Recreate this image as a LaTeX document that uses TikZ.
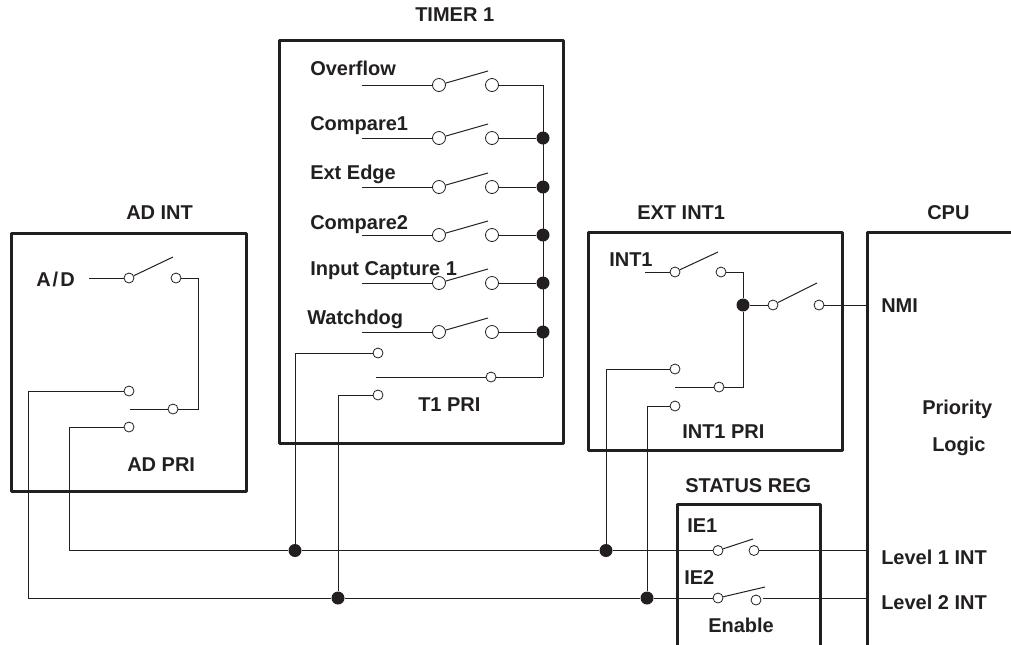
\documentclass[tikz,border=0pt]{standalone}
\usepackage{fontspec}
\setmainfont{Liberation Sans}
\definecolor{ink}{HTML}{231F20}
\tikzset{
  boxline/.style={draw=ink,line width=2.25pt,line join=round},
  wire/.style={draw=ink,line width=0.75pt},
  bigterm/.style={circle,draw=ink,line width=0.6pt,fill=white,minimum size=9.75pt,inner sep=0pt},
  smallterm/.style={circle,draw=ink,line width=0.6pt,fill=white,minimum size=7.5pt,inner sep=0pt},
  junction/.style={circle,fill=ink,minimum size=9.75pt,inner sep=0pt},
  lbl/.style={anchor=base west,inner sep=0pt,text=ink,font=\fontsize{15}{18}\bfseries\selectfont},
}
\newcommand{\timerrow}[2]{%
  \coordinate (in#1) at (362,#2);
  \node[bigterm] (a#1) at (439,#2) {};
  \node[bigterm] (b#1) at (492,#2) {};
  \coordinate (f#1) at (488,#2-14);
  \draw[wire] (in#1) -- (a#1);
  \draw[wire] (a#1) -- (f#1);
}
\begin{document}
\begin{tikzpicture}[x=0.75pt,y=-0.75pt]
\useasboundingbox (0,0) rectangle (1011,644);
% boxes
\coordinate (tl) at (279,40); \coordinate (tr) at (563,443);
\draw[boxline] (tl) rectangle (tr);
\coordinate (al) at (11,233); \coordinate (ar) at (246,491);
\draw[boxline] (al) rectangle (ar);
\coordinate (el) at (588,232); \coordinate (er) at (842,450);
\draw[boxline] (el) rectangle (er);
\coordinate (s1) at (677,650); \coordinate (s2) at (677,504); \coordinate (s3) at (820,504); \coordinate (s4) at (820,650);
\draw[boxline] (s1) -- (s2) -- (s3) -- (s4);
\coordinate (c1) at (867,650); \coordinate (c2) at (867,232); \coordinate (c3) at (1015,232);
\draw[boxline] (c1) -- (c2) -- (c3);
\coordinate (cNMI) at (867,305); \coordinate (cL1) at (867,550.5); \coordinate (cL2) at (867,598);
% timer rows
\timerrow{1}{85}
\timerrow{2}{138}
\timerrow{3}{187}
\timerrow{4}{235}
\timerrow{5}{283}
\timerrow{6}{332}
\coordinate (bustop) at (543,85);
\coordinate (busbot) at (543,377);
\node[junction] (j2) at (543,138) {};
\node[junction] (j3) at (543,187) {};
\node[junction] (j4) at (543,235) {};
\node[junction] (j5) at (543,283) {};
\node[junction] (j6) at (543,332) {};
\draw[wire] (b1) -- (bustop) -- (busbot);
\foreach \n in {2,...,6} \draw[wire] (b\n) -- (j\n);
\node[smallterm] (tp) at (491,377) {};
\coordinate (tpin) at (376,377);
\draw[wire] (tpin) -- (tp) -- (busbot);
\node[smallterm] (tu) at (378,353) {};
\node[smallterm] (td) at (378,395) {};
% junctions on the level lines
\node[junction] (l1a) at (295,550.5) {};
\node[junction] (l1b) at (606,550.5) {};
\node[junction] (l2a) at (338,598) {};
\node[junction] (l2b) at (647,598) {};
\draw[wire] (tu) -| (l1a);
\draw[wire] (td) -| (l2a);
% AD INT
\coordinate (adin) at (89,278);
\node[smallterm] (ad1) at (129,278) {};
\node[smallterm] (ad2) at (176,278) {};
\coordinate (adf) at (173,257);
\draw[wire] (adin) -- (ad1);
\draw[wire] (ad1) -- (adf);
\coordinate (adc) at (198,409);
\node[smallterm] (adp) at (173,409) {};
\coordinate (adpin) at (130,409);
\draw[wire] (ad2) -| (adc) -- (adp) -- (adpin);
\node[smallterm] (adu) at (129,391) {};
\node[smallterm] (add) at (129,427) {};
\coordinate (adl1) at (69,550.5);
\coordinate (adl2) at (28,598);
\draw[wire] (adu) -| (adl2);
\draw[wire] (add) -| (adl1);
% EXT INT1
\coordinate (exin) at (645,272);
\node[smallterm] (ex1) at (675,272) {};
\node[smallterm] (ex2) at (721,272) {};
\coordinate (exf) at (718,252);
\draw[wire] (exin) -- (ex1);
\draw[wire] (ex1) -- (exf);
\node[junction] (exj) at (743,305) {};
\draw[wire] (ex2) -| (exj);
\node[smallterm] (nm1) at (773,305) {};
\node[smallterm] (nm2) at (819,305) {};
\coordinate (nmf) at (817,283);
\draw[wire] (exj) -- (nm1);
\draw[wire] (nm1) -- (nmf);
\draw[wire] (nm2) -- (cNMI);
\node[smallterm] (exp) at (719,387) {};
\coordinate (expin) at (675,387);
\draw[wire] (expin) -- (exp);
\draw[wire] (exj) |- (exp);
\node[smallterm] (exu) at (675,369) {};
\node[smallterm] (exd) at (675,406) {};
\draw[wire] (exu) -| (l1b);
\draw[wire] (exd) -| (l2b);
% status register
\node[smallterm] (ie1a) at (718,550.5) {};
\node[smallterm] (ie1b) at (754,550.5) {};
\coordinate (ie1f) at (753,539);
\node[smallterm] (ie2a) at (718,598) {};
\node[smallterm] (ie2b) at (756,600) {};
\coordinate (ie2f) at (765,587);
\draw[wire] (ie1a) -- (ie1f);
\draw[wire] (ie2a) -- (ie2f);
\draw[wire] (ie1b) -- (cL1);
\coordinate (ie2r) at (763,598);
\draw[wire] (ie2r) -- (cL2);
% level lines
\draw[wire] (adl1) -- (l1a) -- (l1b) -- (ie1a);
\draw[wire] (adl2) -- (l2a) -- (l2b) -- (ie2a);
% labels
\node[lbl] (t01) at (415,21) {TIMER 1};
\node[lbl] (t02) at (310,75) {Overflow};
\node[lbl] (t03) at (310,130) {Compare1};
\node[lbl] (t04) at (310,179) {Ext Edge};
\node[lbl] (t05) at (310,229) {Compare2};
\node[lbl] (t06) at (310,275) {Input Capture 1};
\node[lbl] (t07) at (307,324) {Watchdog};
\node[lbl] (t08) at (418,411) {T1 PRI};
\node[lbl] (t09) at (126,219) {AD INT};
\node[lbl] (t10) at (36,286) {A\kern1.5pt/\kern1.5pt D};
\node[lbl] (t11) at (127,471) {AD PRI};
\node[lbl] (t12) at (637,219) {EXT INT1};
\node[lbl] (t13) at (927,219) {CPU};
\node[lbl] (t14) at (609,266) {INT1};
\node[lbl] (t15) at (682,438) {INT1 PRI};
\node[lbl] (t16) at (881,312) {NMI};
\node[lbl] (t17) at (922,414) {Priority};
\node[lbl] (t18) at (932,451) {Logic};
\node[lbl] (t19) at (685,492) {STATUS REG};
\node[lbl] (t20) at (687,532) {IE1};
\node[lbl] (t21) at (684,584) {IE2};
\node[lbl] (t22) at (708,632) {Enable};
\node[lbl] (t23) at (881,564) {Level 1 INT};
\node[lbl] (t24) at (881,609) {Level 2 INT};
\end{tikzpicture}
\end{document}
